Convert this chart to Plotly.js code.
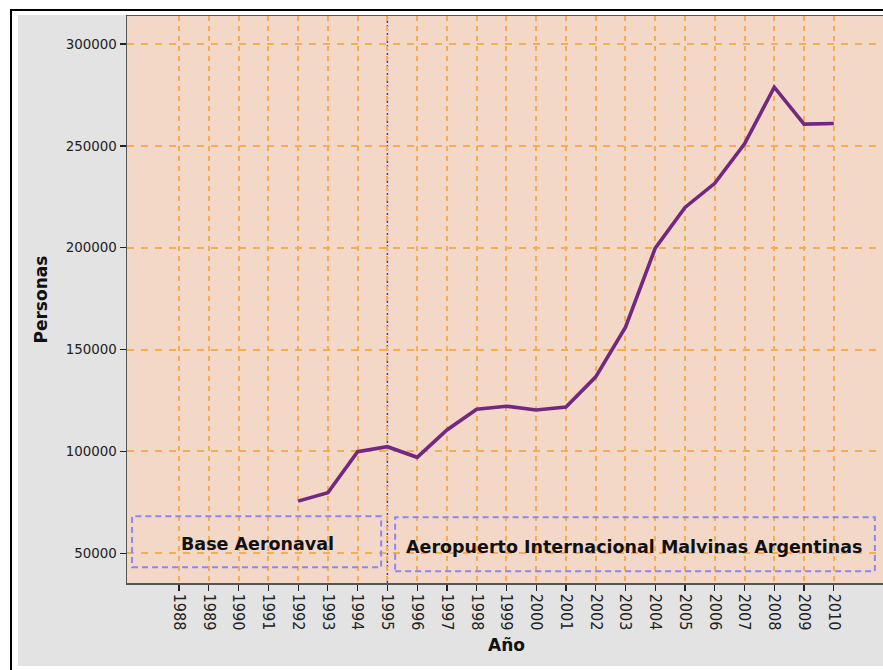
<!DOCTYPE html>
<html>
<head>
<meta charset="utf-8">
<script src="https://cdn.plot.ly/plotly-3.0.1.min.js"></script>
<style>
  html, body { margin: 0; padding: 0; background: #ffffff; overflow: hidden; width: 883px; height: 670px; }
  #frame { position: absolute; left: 10px; top: 9px; width: 900px; height: 700px; border-left: 2px solid #000; border-top: 2px solid #000; }
  #chart { position: absolute; left: 18px; top: 15px; width: 880px; height: 651px; }
</style>
</head>
<body>
<div id="frame"></div>
<div id="chart"></div>
<script>
// ---- data ----
const years = [1992, 1993, 1994, 1995, 1996, 1997, 1998, 1999, 2000, 2001, 2002, 2003, 2004, 2005, 2006, 2007, 2008, 2009, 2010];
const personas = [75600, 79700, 99900, 102300, 97100, 110500, 120700, 122200, 120300, 121800, 136600, 161000, 199800, 219800, 231600, 251000, 278800, 260700, 261000];
const tickYears = [1988, 1989, 1990, 1991, 1992, 1993, 1994, 1995, 1996, 1997, 1998, 1999, 2000, 2001, 2002, 2003, 2004, 2005, 2006, 2007, 2008, 2009, 2010];
const yTicks = [50000, 100000, 150000, 200000, 250000, 300000];
const periodLabels = ["Base Aeronaval", "Aeropuerto Internacional Malvinas Argentinas"];
const changeYear = 1995;

const trace = {
  x: years,
  y: personas,
  type: 'scatter',
  mode: 'lines',
  line: { color: '#72287f', width: 3.6 },
  hoverinfo: 'x+y'
};

const gridColor = '#f8ac50';
const boxColor = '#8c86f2';

const layout = {
  width: 880,
  height: 651,
  margin: { l: 109, r: 13, t: 1, b: 83 },
  paper_bgcolor: '#e3e3e3',
  plot_bgcolor: '#f3d8c8',
  showlegend: false,
  xaxis: {
    range: [1986.25, 2011.72],
    tickmode: 'array',
    tickvals: tickYears,
    ticktext: tickYears.map(String),
    tickangle: 90,
    ticks: 'outside',
    ticklen: 6,
    tickcolor: '#222',
    tickwidth: 1.2,
    tickfont: { family: 'Liberation Sans Narrow, DejaVu Sans Condensed, sans-serif', size: 16, color: '#222' },
    showgrid: true,
    gridcolor: gridColor,
    griddash: '5px,5px',
    gridwidth: 2,
    showline: true,
    linecolor: '#555',
    linewidth: 1.5,
    mirror: true,
    zeroline: false
  },
  yaxis: {
    range: [35400, 313750],
    tickmode: 'array',
    tickvals: yTicks,
    ticktext: yTicks.map(String),
    ticks: 'outside',
    ticklen: 6,
    tickcolor: '#222',
    tickwidth: 1.5,
    tickfont: { family: 'DejaVu Sans, sans-serif', size: 13.4, color: '#222' },
    showgrid: true,
    gridcolor: gridColor,
    griddash: '7px,7px',
    gridwidth: 2,
    showline: true,
    linecolor: '#555',
    linewidth: 1.5,
    zeroline: false
  },
  shapes: [
    { type: 'line', xref: 'x', yref: 'paper', x0: changeYear, x1: changeYear, y0: 0, y1: 1,
      line: { color: '#3c3ce6', width: 1.5, dash: '2px,2px' }, layer: 'between' },
    { type: 'rect', xref: 'x', yref: 'y', x0: 1986.42, x1: 1994.79, y0: 43100, y1: 68200,
      line: { color: boxColor, width: 2, dash: '6px,4px' }, layer: 'above' },
    { type: 'rect', xref: 'x', yref: 'y', x0: 1995.26, x1: 2011.38, y0: 41200, y1: 67700,
      line: { color: boxColor, width: 2, dash: '6px,4px' }, layer: 'above' }
  ],
  annotations: [
    { text: periodLabels[0], xref: 'x', yref: 'y', x: 1990.62, y: 54500, showarrow: false,
      xanchor: 'center', yanchor: 'middle',
      font: { family: 'DejaVu Sans, sans-serif', size: 17.5, color: '#111', weight: 'bold' } },
    { text: periodLabels[1], xref: 'x', yref: 'y', x: 2003.28, y: 53000, showarrow: false,
      xanchor: 'center', yanchor: 'middle',
      font: { family: 'DejaVu Sans, sans-serif', size: 17.5, color: '#111', weight: 'bold' } },
    { text: 'Personas', xref: 'paper', yref: 'paper', x: 0, y: 0.5, xshift: -87, showarrow: false,
      textangle: -90, xanchor: 'center', yanchor: 'middle',
      font: { family: 'DejaVu Sans, sans-serif', size: 17, color: '#111', weight: 'bold' } },
    { text: 'Año', xref: 'paper', yref: 'paper', x: 0.5, y: 0, yshift: -62, showarrow: false,
      xanchor: 'center', yanchor: 'middle',
      font: { family: 'DejaVu Sans, sans-serif', size: 17, color: '#111', weight: 'bold' } }
  ]
};

Plotly.newPlot('chart', [trace], layout, { displayModeBar: false, staticPlot: true });
</script>
</body>
</html>
